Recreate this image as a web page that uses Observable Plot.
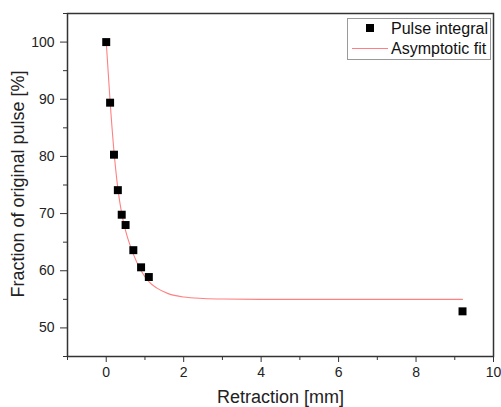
<!DOCTYPE html>
<html>
<head>
<meta charset="utf-8">
<script src="https://cdn.jsdelivr.net/npm/d3@7"></script>
<script src="https://cdn.jsdelivr.net/npm/@observablehq/plot@0.6"></script>
<style>
  body { margin: 0; background: #fff; }
  #wrap { position: relative; width: 501px; height: 407px; font-family: "Liberation Sans", Arial, sans-serif; }
  #legend { position: absolute; left: 347px; top: 18px; width: 142px; height: 40px; border: 1px solid #9a9a9a; background: #fff; font-size: 16px; color: #111; }
  .row { position: absolute; left: 0; height: 20px; width: 100%; }
  .sym { position: absolute; left: 4px; width: 36px; height: 20px; }
  .lab { position: absolute; left: 43px; top: 1px; white-space: nowrap; line-height: 18px; }
</style>
</head>
<body>
<div id="wrap">
  <div id="chart"></div>
  <div id="legend">
    <div class="row" style="top:0px"><div class="sym"><div style="position:absolute;left:14px;top:5px;width:8px;height:8px;background:#000"></div></div><div class="lab">Pulse integral</div></div>
    <div class="row" style="top:20px"><div class="sym"><div style="position:absolute;left:0px;top:9px;width:36px;height:0;border-top:1px solid #ff8080"></div></div><div class="lab">Asymptotic fit</div></div>
  </div>
</div>
<script>
// Measured points
const retraction = [0, 0.1, 0.2, 0.3, 0.4, 0.5, 0.7, 0.9, 1.1, 9.2];
const fraction   = [100, 89.4, 80.3, 74.1, 69.8, 68.0, 63.6, 60.6, 58.9, 52.9];

// Asymptotic fit curve
const fitX = [0, 0.1, 0.2, 0.3, 0.4, 0.5, 0.7, 0.9, 1.1, 1.3, 1.6, 2.0, 2.5, 3.0, 4.0, 9.2];
const fitY = [100, 89.6, 80.9, 74.4, 70.0, 67.0, 62.9, 60.0, 58.1, 57.0, 56.0, 55.4, 55.15, 55.05, 55.0, 55.0];

const xMajor = [0, 2, 4, 6, 8, 10];
const xMinor = [-1, 1, 3, 5, 7, 9];
const yMajor = [50, 60, 70, 80, 90, 100];
const yMinor = [45, 55, 65, 75, 85, 95, 105];

const points = retraction.map((x, i) => ({x, y: fraction[i]}));
const fit = fitX.map((x, i) => ({x, y: fitY[i]}));

const chart = Plot.plot({
  width: 501,
  height: 407,
  marginLeft: 67,
  marginRight: 8,
  marginTop: 13,
  marginBottom: 51,
  style: {fontFamily: '"Liberation Sans", Arial, sans-serif', fontSize: "14px", color: "#222", background: "#fff"},
  x: {domain: [-1, 10]},
  y: {domain: [45, 105]},
  marks: [
    Plot.line(fit, {x: "x", y: "y", stroke: "#ff8080", strokeWidth: 1.1, curve: "monotone-x"}),
    Plot.dot(points, {x: "x", y: "y", symbol: "square", r: 4.5, fill: "#000", stroke: "none"}),
    Plot.axisX({ticks: xMajor, tickSize: 6, tickPadding: 5, label: null, stroke: "#333", fontSize: 14}),
    Plot.axisX({ticks: xMinor, tickSize: 4, tickFormat: () => "", label: null, stroke: "#333"}),
    Plot.axisY({ticks: yMajor, tickSize: 7, tickPadding: 6, label: null, stroke: "#333", fontSize: 14}),
    Plot.axisY({ticks: yMinor, tickSize: 4, tickFormat: () => "", label: null, stroke: "#333"}),
    Plot.frame({stroke: "#333", strokeWidth: 1.5}),
    Plot.text(["Retraction [mm]"], {frameAnchor: "bottom", lineAnchor: "middle", textAnchor: "middle", dy: 41, fontSize: 18, fill: "#222"}),
    Plot.text(["Fraction of original pulse [%]"], {frameAnchor: "left", lineAnchor: "middle", textAnchor: "middle", dx: -49, dy: -1, rotate: -90, fontSize: 18, fill: "#222"})
  ]
});
document.getElementById("chart").appendChild(chart);
</script>
</body>
</html>
